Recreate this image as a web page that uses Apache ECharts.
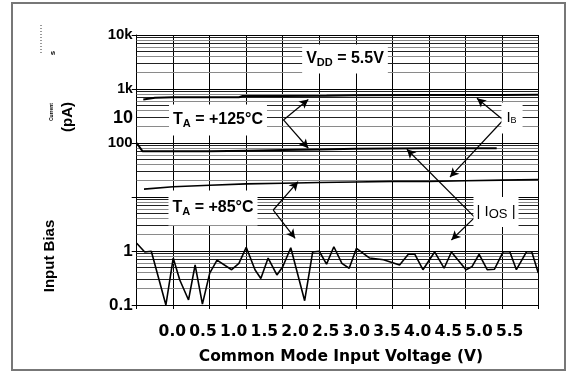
<!DOCTYPE html>
<html>
<head>
<meta charset="utf-8">
<script src="https://cdn.jsdelivr.net/npm/echarts@6/dist/echarts.min.js"></script>
<style>
  html, body { margin: 0; padding: 0; background: #fff; }
  #chart { width: 577px; height: 377px; }
</style>
</head>
<body>
<div id="chart"></div>
<script>
// x tick labels (printed under the plot) and y tick labels
var xLabels = ['0.0', '0.5', '1.0', '1.5', '2.0', '2.5', '3.0', '3.5', '4.0', '4.5', '5.0', '5.5'];
var yDecades = [0.1, 1, 10, 100, 1000, 10000];
var yLabels = ['{b|0.1}', '{b|1}', '', '{m|100}', '{s|1k}', '{m|10k}'];

// IB at +125C
var ib125V = [0.09, 0.25, 0.5, 1.0, 1.4, 1.45, 2.0, 2.6, 3.0, 4.0, 5.0, 5.5];
var ib125 = [640, 690, 700, 700, 705, 740, 745, 750, 770, 775, 778, 780];
// |IOS| at +125C
var ios125V = [0.0, 0.08, 0.5, 1.0, 1.5, 2.0, 2.5, 3.0, 3.5, 4.0, 4.5, 4.93];
var ios125 = [100, 70, 70, 70, 72, 74, 76, 78, 79, 80, 80, 80];
// IB at +85C
var ib85V = [0.1, 0.5, 1.0, 1.5, 2.0, 2.5, 3.0, 3.5, 4.0, 4.5, 5.0, 5.5];
var ib85 = [14, 15.5, 16.5, 17.5, 18, 18.5, 19, 19.5, 19.5, 20, 20.5, 21];
// |IOS| at +85C
var ios85V = [0, 0.11, 0.2, 0.4, 0.5, 0.59, 0.71, 0.8, 0.9, 1.0, 1.1, 1.3, 1.4, 1.5, 1.62, 1.7, 1.8, 1.92, 2.0, 2.11,
  2.3, 2.41, 2.5, 2.6, 2.7, 2.81, 2.91, 3.01, 3.19, 3.38, 3.6, 3.72, 3.81, 3.92, 4.08, 4.21, 4.31, 4.51, 4.59,
  4.69, 4.8, 4.9, 5.02, 5.11, 5.2, 5.34, 5.41, 5.5];
var ios85 = [1.39, 0.96, 0.99, 0.1, 0.74, 0.29, 0.124, 0.55, 0.104, 0.39, 0.68, 0.45, 0.59, 1.17, 0.45, 0.31, 0.74, 0.36, 0.51, 1.15,
  0.12, 0.96, 0.99, 0.57, 1.2, 0.59, 0.48, 1.12, 0.74, 0.69, 0.55, 0.87, 0.87, 0.45, 0.96, 0.48, 0.96, 0.45, 0.51,
  0.87, 0.45, 0.46, 0.97, 0.97, 0.45, 0.97, 0.97, 0.39];

// callout arrows: [fromV, fromVal, toV, toVal]
var arrows = [
  [2.01, 267, 2.35, 640], [2.01, 267, 2.35, 80],     // TA = +125C
  [5.02, 267, 4.66, 673], [5.02, 267, 4.29, 23.4],   // IB
  [4.63, 4.2, 3.70, 76.5], [4.63, 4.2, 4.31, 1.6],   // |IOS|
  [1.87, 5.74, 2.21, 19.2], [1.87, 5.74, 2.17, 1.72] // TA = +85C
];

function zip(a, b) { return a.map(function (v, i) { return [v, b[i]]; }); }

// log minor grid lines (2..9 in every decade)
var minorLines = [];
yDecades.slice(0, -1).forEach(function (d) {
  for (var k = 2; k <= 9; k++) {
    minorLines.push({ yAxis: d * k, lineStyle: { color: k % 2 ? '#222' : '#8a8a8a' } });
  }
});

var F = "'Liberation Sans', Arial, sans-serif";
var FW = "'DejaVu Sans', sans-serif";
var FN = "'Liberation Sans Narrow', 'Liberation Sans', Arial, sans-serif";

function lineSeries(data, w) {
  return { type: 'line', data: data, symbol: 'none', z: 5, silent: true,
    lineStyle: { color: '#000', width: w } };
}

var chart = echarts.init(document.getElementById('chart'));
chart.setOption({
  animation: false,
  grid: [
    { left: 136.7, right: 38.7, top: 35, bottom: 72 },
    { left: 157, right: 52, top: 35, bottom: 72 }
  ],
  xAxis: [{
    type: 'value', gridIndex: 0, min: 0, max: 5.5, interval: 0.5,
    axisLine: { lineStyle: { color: '#000', width: 1 } },
    axisTick: { show: true, length: 4, lineStyle: { color: '#000' } },
    axisLabel: { show: false },
    splitLine: { show: true, lineStyle: { color: '#000', width: 1 } }
  }, {
    type: 'category', gridIndex: 1, data: xLabels,
    axisLine: { show: false }, axisTick: { show: false },
    axisLabel: { interval: 0, hideOverlap: false, margin: 19, color: '#000', fontFamily: FW, fontWeight: 'bold', fontSize: 15.5 },
    name: 'Common Mode Input Voltage (V)', nameLocation: 'middle', nameGap: 44,
    nameTextStyle: { color: '#000', fontFamily: FW, fontWeight: 'bold', fontSize: 15.5 }
  }],
  yAxis: [{
    type: 'log', gridIndex: 0, min: 0.1, max: 10000, logBase: 10,
    axisLine: { show: true, lineStyle: { color: '#000', width: 1 } },
    axisTick: { show: true, length: 5, lineStyle: { color: '#000' } },
    axisLabel: {
      margin: 4, color: '#000', fontFamily: FN, fontWeight: 'bold', fontSize: 15,
      rich: {
        b: { fontFamily: F, fontWeight: 'bold', fontSize: 17, color: '#000' },
        m: { fontFamily: FN, fontWeight: 'bold', fontSize: 15, color: '#000' },
        s: { fontFamily: FN, fontWeight: 'bold', fontSize: 14, color: '#000' }
      },
      formatter: function (v) {
        for (var i = 0; i < yDecades.length; i++) {
          if (Math.abs(Math.log10(v) - Math.log10(yDecades[i])) < 1e-6) return yLabels[i];
        }
        return '';
      }
    },
    splitLine: { show: true, lineStyle: { color: '#000', width: 1 } }
  }, {
    type: 'value', gridIndex: 1, show: false
  }],
  series: [
    { type: 'line', data: [], z: 1, silent: true,
      markLine: { silent: true, symbol: 'none', label: { show: false },
        lineStyle: { type: 'solid', width: 1 }, data: minorLines } },
    lineSeries(zip(ib125V, ib125), 2),
    lineSeries(zip(ios125V, ios125), 2),
    lineSeries(zip(ib85V, ib85), 1.6),
    lineSeries(zip(ios85V, ios85), 1.6),
    { type: 'line', data: [], z: 6, silent: true,
      markLine: { silent: true, symbol: ['none', 'arrow'], symbolSize: [7, 9],
        label: { show: false }, lineStyle: { type: 'solid', color: '#000', width: 1.2 },
        data: arrows.map(function (a) { return [{ coord: [a[0], a[1]] }, { coord: [a[2], a[3]] }]; }) } }
  ],
  graphic: [
    { type: 'rect', shape: { x: 12, y: 3, width: 553, height: 367 }, z: 0,
      style: { fill: 'none', stroke: '#777', lineWidth: 2 } },
    { type: 'line', shape: { x1: 41, y1: 25, x2: 41, y2: 53 },
      style: { stroke: '#333', lineWidth: 1, lineDash: [1, 2] } },
    { type: 'text', x: 53, y: 53, rotation: Math.PI / 2,
      style: { text: 's', font: 'bold 8px ' + F, fill: '#000', align: 'center', verticalAlign: 'middle' } },
    { type: 'text', x: 52, y: 112, rotation: Math.PI / 2,
      style: { text: 'Current', font: 'bold 5px ' + F, fill: '#000', align: 'center', verticalAlign: 'middle' } },
    { type: 'text', x: 68, y: 117, rotation: Math.PI / 2,
      style: { text: '(pA)', font: 'bold 15px ' + F, fill: '#000', align: 'center', verticalAlign: 'middle' } },
    { type: 'text', x: 50, y: 256, rotation: Math.PI / 2,
      style: { text: 'Input Bias', font: 'bold 15px ' + F, fill: '#000', align: 'center', verticalAlign: 'middle' } },
    { type: 'text', x: 133, y: 118,
      style: { text: '10', font: 'bold 18px ' + F, fill: '#000', align: 'right', verticalAlign: 'middle' } },
    { type: 'text', x: 345, y: 59, z: 10,
      style: { text: '{a|V}{s|DD}{a| = 5.5V}', align: 'center', verticalAlign: 'middle',
        backgroundColor: '#fff', padding: [5, 4, 5, 4],
        rich: { a: { font: 'bold 16px ' + F, fill: '#000' }, s: { font: 'bold 11px ' + F, padding: [8, 0, 0, 0] } } } },
    { type: 'text', x: 218, y: 120, z: 10,
      style: { text: '{a|T}{s|A}{a| = +125°C}', align: 'center', verticalAlign: 'middle',
        backgroundColor: '#fff', padding: [6, 4, 6, 4],
        rich: { a: { font: 'bold 16px ' + F, fill: '#000' }, s: { font: 'bold 11px ' + F, padding: [8, 0, 0, 0] } } } },
    { type: 'text', x: 213, y: 208, z: 10,
      style: { text: '{a|T}{s|A}{a| = +85°C}', align: 'center', verticalAlign: 'middle',
        backgroundColor: '#fff', padding: [8, 4, 8, 4],
        rich: { a: { font: 'bold 16px ' + F, fill: '#000' }, s: { font: 'bold 11px ' + F, padding: [8, 0, 0, 0] } } } },
    { type: 'text', x: 512, y: 118, z: 10,
      style: { text: '{a|I}{s|B}', align: 'center', verticalAlign: 'middle',
        backgroundColor: '#fff', padding: [8, 6, 8, 5],
        rich: { a: { font: '15px ' + F, fill: '#000' }, s: { font: '9px ' + F, padding: [5, 0, 0, 0] } } } },
    { type: 'text', x: 496, y: 212, z: 10,
      style: { text: '{a|| I}{s|OS}{a| |}', align: 'center', verticalAlign: 'middle',
        backgroundColor: '#fff', padding: [6, 3, 6, 3],
        rich: { a: { font: '15px ' + F, fill: '#000' }, s: { font: '13px ' + F, padding: [5, 0, 0, 0] } } } }
  ]
});
</script>
</body>
</html>
